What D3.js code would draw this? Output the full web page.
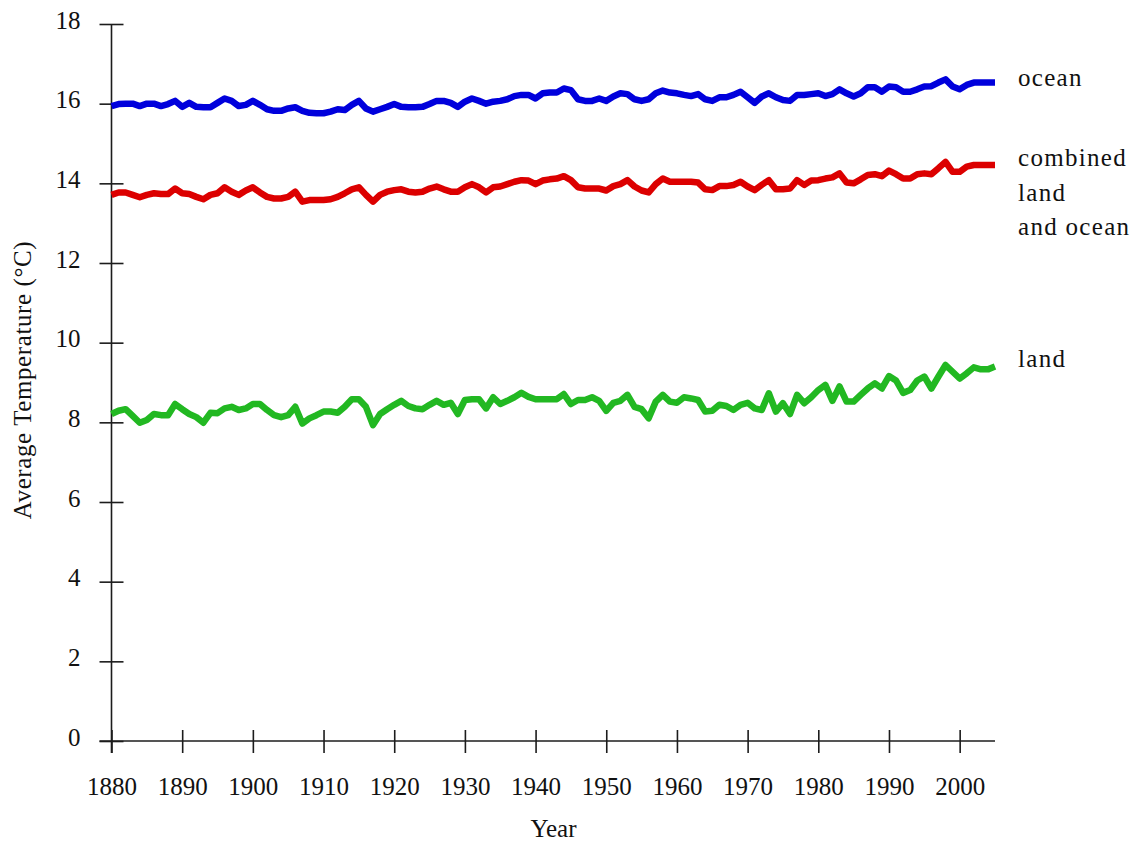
<!DOCTYPE html>
<html>
<head>
<meta charset="utf-8">
<script src="https://cdn.jsdelivr.net/npm/d3@7"></script>
<style>
  body { margin: 0; background: #fff; }
  svg { display: block; }
  text, tspan { font-family: "Liberation Serif", "Times New Roman", serif; fill: #111; }
</style>
</head>
<body>
<svg id="chart" width="1134" height="842"></svg>
<script>
// years 1880..2005, average temperature in °C
var years = d3.range(1880, 2006);

var ocean = [
  15.94, 15.99, 16.00, 16.00, 15.94, 16.00, 16.00, 15.94, 15.99, 16.07,
  15.92, 16.02, 15.92, 15.91, 15.91, 16.02, 16.13, 16.07, 15.94, 15.97,
  16.07, 15.97, 15.86, 15.82, 15.82, 15.88, 15.91, 15.82, 15.77, 15.76,
  15.76, 15.80, 15.86, 15.84, 15.97, 16.07, 15.88, 15.80, 15.86, 15.92,
  15.99, 15.92, 15.91, 15.91, 15.92, 15.99, 16.07, 16.07, 16.02, 15.92,
  16.05, 16.13, 16.07, 16.00, 16.05, 16.07, 16.11, 16.19, 16.22, 16.22,
  16.13, 16.26, 16.28, 16.28, 16.38, 16.34, 16.11, 16.07, 16.07, 16.13,
  16.07, 16.18, 16.26, 16.24, 16.11, 16.07, 16.11, 16.26, 16.33, 16.28,
  16.26, 16.22, 16.19, 16.24, 16.11, 16.07, 16.16, 16.16, 16.22, 16.30,
  16.16, 16.02, 16.18, 16.26, 16.16, 16.09, 16.07, 16.22, 16.22, 16.24,
  16.26, 16.19, 16.24, 16.36, 16.26, 16.18, 16.26, 16.41, 16.41, 16.30,
  16.43, 16.41, 16.30, 16.30, 16.36, 16.43, 16.44, 16.53, 16.61, 16.43,
  16.36, 16.47, 16.53, 16.53, 16.53, 16.53];

var combined = [
  13.71, 13.77, 13.77, 13.71, 13.65, 13.71, 13.75, 13.73, 13.73, 13.87,
  13.75, 13.73, 13.66, 13.60, 13.71, 13.75, 13.90, 13.79, 13.71, 13.82,
  13.90, 13.77, 13.66, 13.62, 13.62, 13.66, 13.79, 13.54, 13.58, 13.58,
  13.58, 13.60, 13.66, 13.75, 13.85, 13.90, 13.71, 13.54, 13.71, 13.79,
  13.83, 13.85, 13.79, 13.77, 13.79, 13.87, 13.92, 13.85, 13.79, 13.79,
  13.90, 13.98, 13.90, 13.77, 13.90, 13.92, 13.98, 14.04, 14.08, 14.07,
  13.98, 14.07, 14.10, 14.12, 14.18, 14.08, 13.90, 13.87, 13.87, 13.87,
  13.82, 13.93, 13.98, 14.08, 13.92, 13.82, 13.77, 13.98, 14.12, 14.04,
  14.04, 14.04, 14.04, 14.02, 13.85, 13.83, 13.93, 13.93, 13.96, 14.04,
  13.92, 13.83, 13.96, 14.08, 13.85, 13.85, 13.87, 14.08, 13.96, 14.07,
  14.08, 14.12, 14.15, 14.25, 14.02, 14.00, 14.10, 14.21, 14.23, 14.18,
  14.32, 14.23, 14.12, 14.12, 14.23, 14.25, 14.23, 14.38, 14.54, 14.29,
  14.29, 14.42, 14.46, 14.46, 14.46, 14.46];

var land = [
  8.21, 8.29, 8.33, 8.16, 7.99, 8.06, 8.21, 8.18, 8.18, 8.46,
  8.33, 8.21, 8.13, 7.99, 8.24, 8.23, 8.35, 8.39, 8.31, 8.35,
  8.46, 8.46, 8.31, 8.18, 8.13, 8.18, 8.39, 7.97, 8.10, 8.18,
  8.27, 8.27, 8.24, 8.39, 8.58, 8.58, 8.39, 7.93, 8.21, 8.33,
  8.44, 8.54, 8.41, 8.35, 8.33, 8.44, 8.54, 8.44, 8.49, 8.21,
  8.56, 8.58, 8.58, 8.35, 8.63, 8.46, 8.54, 8.63, 8.74, 8.64,
  8.58, 8.58, 8.58, 8.58, 8.71, 8.46, 8.56, 8.56, 8.63, 8.54,
  8.29, 8.49, 8.54, 8.69, 8.39, 8.33, 8.10, 8.52, 8.69, 8.52,
  8.49, 8.63, 8.60, 8.56, 8.27, 8.29, 8.44, 8.41, 8.31, 8.44,
  8.49, 8.35, 8.31, 8.73, 8.27, 8.48, 8.21, 8.69, 8.48, 8.63,
  8.81, 8.94, 8.54, 8.90, 8.52, 8.52, 8.69, 8.85, 8.98, 8.85,
  9.16, 9.05, 8.74, 8.81, 9.05, 9.15, 8.85, 9.15, 9.44, 9.27,
  9.10, 9.23, 9.38, 9.33, 9.33, 9.40];

var xTicks = d3.range(1880, 2001, 10);
var yTicks = d3.range(0, 19, 2);

var series = [
  {name: "ocean", values: ocean, color: "#0000dc", label: ["ocean"]},
  {name: "combined", values: combined, color: "#dc0000", label: ["combined", "land", "and ocean"]},
  {name: "land", values: land, color: "#22b822", label: ["land"]}
];

var font = "'Liberation Serif', 'Times New Roman', serif";

var svg = d3.select("#chart");

var x = d3.scaleLinear().domain([1880, 2005]).range([111.5, 995]);
var y = d3.scaleLinear().domain([0, 18]).range([741, 24]);

var axisColor = "#1c1c1c";

// x axis, ticks cross the line
var gx = svg.append("g")
    .attr("transform", `translate(0,${y(0)})`)
    .call(d3.axisBottom(x).tickValues(xTicks).tickFormat(d3.format("d")).tickSizeOuter(0));
gx.select(".domain").remove();
gx.selectAll(".tick line")
    .attr("y1", -11).attr("y2", 12)
    .attr("stroke", axisColor).attr("stroke-width", 1.6);
gx.selectAll(".tick text")
    .attr("y", 54).attr("dy", 0)
    .style("font-size", "25px").style("font-family", font)
    .attr("fill", "#111");

// y axis
var gy = svg.append("g")
    .attr("transform", `translate(${x(1880)},0)`)
    .call(d3.axisLeft(y).tickValues(yTicks).tickSizeOuter(0));
gy.select(".domain").remove();
gy.selectAll(".tick line")
    .attr("x1", -12).attr("x2", 12)
    .attr("stroke", axisColor).attr("stroke-width", 1.6);
gy.selectAll(".tick text")
    .attr("x", -31).attr("y", 4).attr("dy", 0)
    .style("font-size", "25px").style("font-family", font)
    .attr("fill", "#111");

// axis lines
svg.append("line")
    .attr("x1", x(1880) - 12).attr("x2", x(2005))
    .attr("y1", y(0)).attr("y2", y(0))
    .attr("stroke", axisColor).attr("stroke-width", 1.6);
svg.append("line")
    .attr("x1", x(1880)).attr("x2", x(1880))
    .attr("y1", y(18)).attr("y2", y(0) + 12)
    .attr("stroke", axisColor).attr("stroke-width", 1.6);

// data lines
var line = d3.line()
    .x((d, i) => x(years[i]))
    .y(d => y(d));

svg.append("g").selectAll("path")
  .data(series)
  .join("path")
    .attr("fill", "none")
    .attr("stroke", d => d.color)
    .attr("stroke-width", 6.5)
    .attr("stroke-linejoin", "round")
    .attr("d", d => line(d.values));

// labels at the right end
var labelY = {ocean: 86, combined: 166, land: 367};
series.forEach(s => {
  svg.append("text")
      .attr("x", 1018)
      .attr("y", labelY[s.name])
      .style("font-size", "25px")
      .style("font-family", font)
      .style("letter-spacing", "1.3px")
    .selectAll("tspan")
    .data(s.label)
    .join("tspan")
      .attr("x", 1018)
      .attr("dy", (d, i) => i ? 34.5 : 0)
      .text(d => d);
});

// axis titles
svg.append("text")
    .attr("x", 553.5)
    .attr("y", 837)
    .attr("text-anchor", "middle")
    .style("font-size", "25px")
    .style("font-family", font)
    .text("Year");

svg.append("text")
    .attr("transform", "translate(31,380) rotate(-90)")
    .attr("text-anchor", "middle")
    .style("font-size", "25px")
    .style("font-family", font)
    .style("letter-spacing", "0.6px")
    .text("Average Temperature (°C)");
</script>
</body>
</html>
